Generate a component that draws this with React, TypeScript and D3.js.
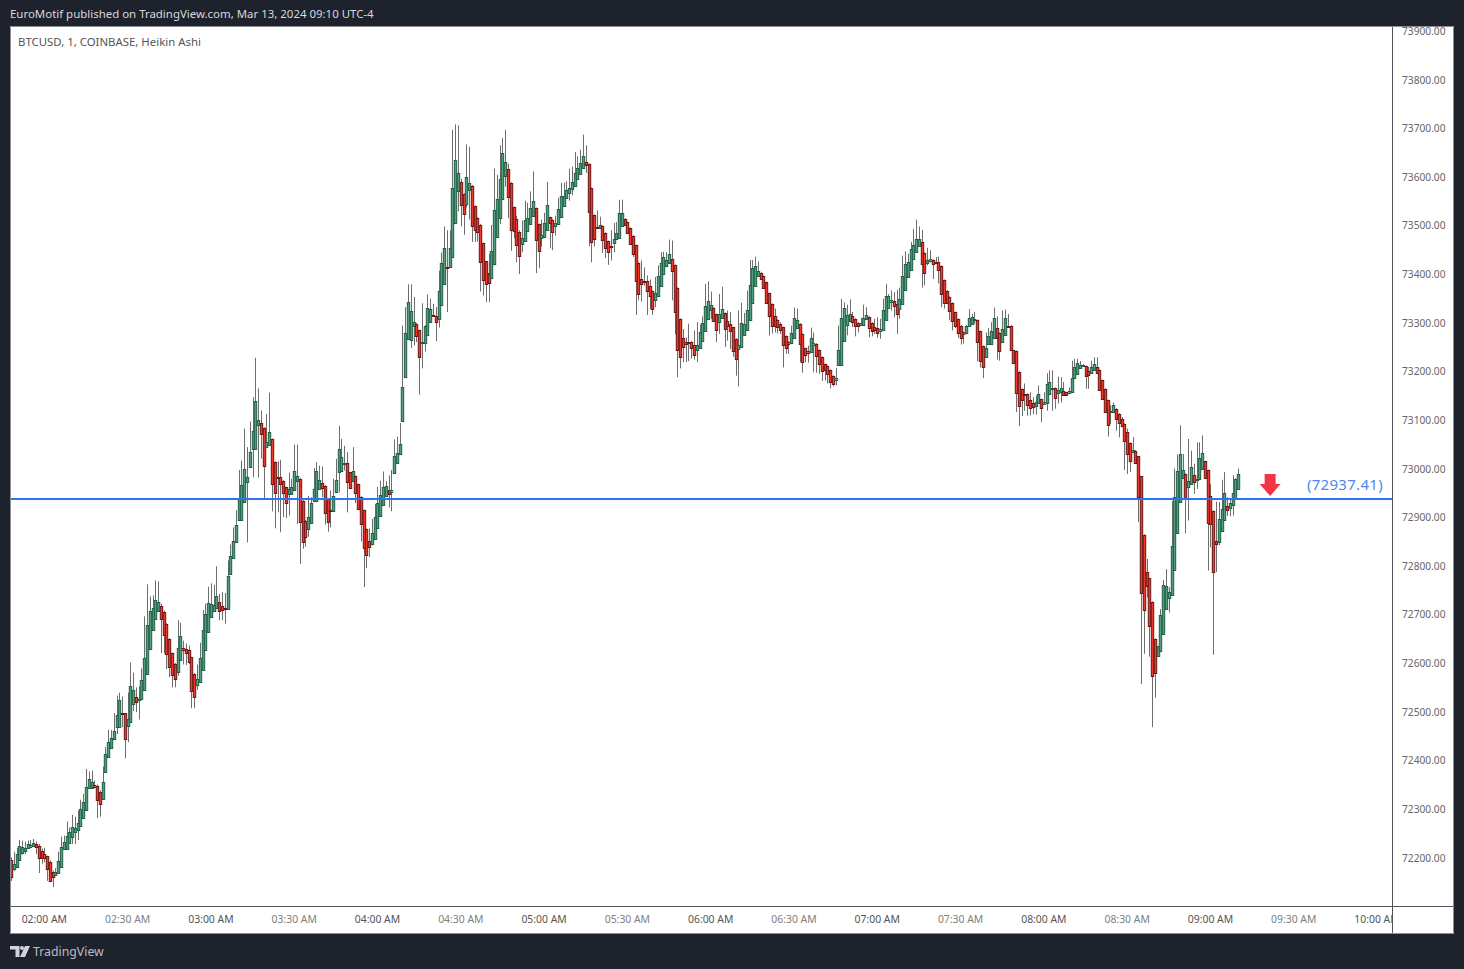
import React from "react";
import * as d3 from "d3";

const opens = [
72194,72176,72180,72195,72209,72214,72220,72221,72224,72228,
72224,72214,72207,72203,72190,72170,72164,72168,72181,72218,
72218,72229,72242,72252,72257,72265,72281,72298,72343,72342,
72349,72347,72334,72320,72376,72406,72425,72444,72468,72468,
72497,72497,72470,72479,72516,72530,72526,72526,72545,72578,
72629,72668,72690,72708,72718,72705,72681,72650,72621,72598,
72582,72607,72631,72629,72626,72612,72578,72554,72561,72586,
72627,72664,72694,72708,72714,72726,72718,72714,72711,72783,
72816,72848,72894,72894,72931,72972,73003,73040,73040,73090,
73093,73084,73044,73049,73061,73014,72983,72983,72975,72962,
72948,72948,72956,72974,72979,72934,72893,72876,72889,72933,
72933,72958,72970,72965,72938,72914,72912,72951,72992,72995,
73010,73012,72992,72974,72985,72968,72942,72915,72876,72850,
72844,72855,72878,72903,72925,72943,72955,72952,72990,73012,
73030,73097,73188,73267,73265,73294,73298,73285,73259,73259,
73275,73301,73316,73314,73308,73337,73380,73415,73414,73436,
73505,73571,73590,73565,73544,73573,73582,73540,73516,73501,
73464,73426,73402,73392,73420,73476,73516,73555,73602,73616,
73588,73538,73514,73487,73461,73469,73489,73503,73520,73536,
73503,73475,73477,73491,73517,73512,73499,73503,73518,73540,
73556,73567,73575,73582,73596,73606,73619,73631,73627,73577,
73522,73497,73495,73499,73485,73468,73457,73464,73473,73475,
73499,73514,73507,73495,73479,73460,73423,73390,73386,73386,
73376,73365,73346,73355,73376,73400,73416,73422,73431,73419,
73372,73308,73269,73261,73260,73261,73254,73244,73247,73263,
73283,73308,73326,73331,73318,73302,73310,73320,73304,73298,
73291,73267,73246,73250,73274,73285,73305,73341,73376,73396,
73403,73396,73384,73361,73339,73314,73306,73298,73291,73273,
73261,73259,73269,73289,73298,73277,73248,73242,73240,73254,
73257,73244,73230,73215,73211,73203,73191,73182,73213,73213,
73263,73295,73304,73314,73308,73300,73296,73296,73308,73312,
73300,73291,73289,73283,73285,73306,73330,73342,73345,73338,
73328,73339,73368,73394,73409,73431,73446,73458,73466,73444,
73422,73427,73429,73425,73425,73417,73388,73366,73353,73341,
73322,73308,73294,73281,73279,73294,73298,73307,73306,73283,
73252,73230,73257,73256,73269,73289,73279,73261,73275,73294,
73294,73243,73242,73199,73164,73154,73154,73141,73134,73129,
73134,73143,73133,73134,73154,73165,73166,73156,73158,73160,
73157,73156,73158,73187,73195,73206,73211,73211,73200,73197,
73202,73209,73203,73182,73164,73141,73117,73117,73123,73113,
73102,73092,73076,73053,73034,73037,73025,72984,72864,72787,
72774,72726,72650,72615,72624,72660,72711,72734,72740,72791,
72868,72932,72981,72989,72963,72969,72986,72979,72979,73000,
73015,72997,72944,72913,72852,72848,72872,72894,72923,72919,
72925,72937,72958];

const closes = [
72159,72187,72207,72224,72221,72220,72227,72226,72230,72221,
72200,72200,72200,72176,72151,72159,72170,72193,72221,72231,
72244,72253,72262,72260,72271,72300,72314,72345,72361,72355,
72344,72318,72310,72355,72413,72438,72446,72460,72494,72524,
72496,72443,72485,72553,72545,72520,72527,72565,72611,72679,
72708,72714,72730,72726,72690,72657,72619,72591,72575,72567,
72631,72656,72627,72620,72602,72542,72530,72568,72611,72668,
72701,72724,72722,72720,72738,72707,72709,72711,72780,72821,
72850,72884,72938,72966,72999,72983,73034,73078,73138,73100,
73071,73005,73054,73075,72968,72949,72982,72968,72949,72929,
72957,72962,72994,72984,72890,72848,72859,72901,72929,72958,
72994,72977,72960,72908,72890,72912,72944,72977,73041,73024,
73012,72972,72960,72995,72949,72916,72886,72837,72822,72838,
72868,72901,72929,72946,72962,72965,72948,72956,73026,73032,
73051,73168,73279,73343,73324,73301,73273,73229,73261,73294,
73331,73329,73315,73301,73366,73423,73454,73414,73454,73577,
73635,73608,73542,73524,73600,73588,73499,73490,73487,73424,
73387,73379,73381,73448,73532,73555,73595,73649,73631,73558,
73491,73488,73460,73437,73475,73512,73516,73536,73551,73470,
73448,73481,73505,73542,73505,73487,73505,73534,73561,73561,
73573,73578,73590,73608,73619,73629,73643,73624,73527,73466,
73472,73496,73501,73470,73454,73446,73456,73472,73485,73526,
73526,73501,73485,73461,73442,73386,73359,73380,73385,73365,
73355,73328,73361,73396,73423,73436,73428,73442,73407,73322,
73244,73229,73250,73256,73259,73248,73234,73254,73281,73300,
73335,73345,73337,73304,73285,73318,73329,73287,73294,73283,
73242,73226,73254,73300,73298,73327,73378,73413,73417,73407,
73390,73372,73341,73313,73294,73294,73292,73285,73254,73248,
73257,73279,73310,73306,73257,73219,73234,73238,73269,73259,
73232,73215,73201,73203,73195,73178,73174,73187,73244,73310,
73331,73316,73318,73302,73294,73294,73300,73310,73316,73289,
73283,73285,73279,73287,73327,73355,73355,73347,73334,73318,
73349,73396,73421,73425,73452,73460,73473,73473,73421,73403,
73429,73431,73420,73424,73409,73360,73341,73341,73325,73304,
73293,73279,73269,73277,73294,73310,73311,73308,73261,73222,
73209,73248,73273,73283,73310,73269,73242,73287,73310,73292,
73244,73217,73156,73129,73141,73153,73130,73125,73127,73137,
73154,73125,73137,73173,73178,73166,73145,73162,73166,73152,
73152,73160,73187,73208,73217,73213,73213,73191,73193,73209,
73215,73197,73162,73143,73117,73090,73119,73130,73102,73093,
73088,73056,73030,73015,73039,73012,72941,72744,72709,72759,
72676,72573,72579,72634,72698,72760,72759,72747,72841,72941,
72996,73030,72997,72937,72975,73004,72973,72979,73022,73033,
72981,72888,72885,72787,72845,72896,72917,72950,72915,72929,
72950,72979,72989];

const highs = [
72200,72212,72220,72236,72235,72233,72235,72236,72238,72233,
72228,72218,72220,72204,72194,72173,72178,72212,72243,72245,
72274,72262,72288,72284,72296,72319,72331,72382,72377,72379,
72358,72350,72338,72387,72427,72463,72462,72497,72533,72539,
72531,72497,72539,72601,72580,72550,72552,72589,72696,72762,
72737,72739,72770,72768,72722,72708,72682,72651,72622,72600,
72688,72683,72646,72640,72636,72613,72579,72597,72642,72709,
72722,72757,72764,72761,72799,72742,72746,72744,72811,72844,
72879,72914,72997,73016,73082,73044,73097,73147,73228,73165,
73119,73085,73112,73156,73062,73015,73015,73018,72976,72963,
72992,72979,73049,73049,72980,72935,72894,72944,72941,73001,
73013,73006,73004,72966,72939,72955,72979,73020,73088,73061,
73047,73034,72993,73044,72986,72969,72943,72916,72877,72877,
72896,72927,72962,72975,72994,72974,72986,72997,73060,73066,
73094,73294,73332,73379,73379,73353,73299,73286,73340,73295,
73358,73349,73339,73332,73407,73444,73498,73490,73490,73697,
73708,73706,73596,73566,73667,73662,73583,73541,73517,73503,
73465,73427,73442,73501,73617,73604,73665,73680,73697,73627,
73589,73539,73520,73490,73510,73551,73547,73570,73611,73537,
73504,73512,73526,73590,73518,73513,73520,73557,73588,73588,
73591,73617,73621,73651,73642,73656,73687,73665,73628,73578,
73523,73531,73518,73500,73486,73469,73490,73505,73507,73553,
73553,73515,73508,73496,73480,73461,73424,73428,73414,73397,
73389,73366,73394,73418,73445,73446,73445,73471,73469,73420,
73373,73309,73287,73270,73298,73262,73284,73301,73296,73313,
73380,73385,73364,73332,73319,73359,73374,73321,73325,73322,
73292,73268,73325,73341,73320,73366,73429,73429,73436,73426,
73404,73397,73385,73362,73340,73329,73307,73301,73292,73274,
73262,73294,73331,73329,73299,73278,73249,73253,73290,73280,
73258,73245,73231,73216,73212,73204,73192,73207,73294,73349,
73342,73337,73348,73322,73309,73301,73310,73337,73332,73313,
73301,73308,73311,73308,73349,73380,73359,73366,73363,73368,
73372,73438,73447,73442,73466,73493,73512,73498,73491,73445,
73454,73449,73430,73435,73436,73418,73389,73367,73354,73342,
73323,73309,73295,73282,73295,73328,73318,73322,73307,73284,
73253,73280,73289,73301,73331,73313,73280,73325,73327,73318,
73295,73244,73243,73200,73165,73175,73155,73157,73147,73150,
73171,73144,73157,73196,73202,73202,73167,73189,73188,73178,
73158,73167,73222,73226,73226,73221,73215,73212,73209,73222,
73229,73229,73204,73183,73165,73142,73130,73136,73124,73114,
73106,73093,73082,73054,73065,73038,73026,72985,72865,72814,
72775,72727,72651,72635,72711,72771,72793,72756,72933,73000,
73029,73089,73030,72990,73061,73037,73010,73054,73054,73068,
73016,72998,72968,72914,72932,72931,72977,72993,72941,72936,
72986,72980,73000];

const lows = [
72152,72172,72178,72194,72206,72207,72218,72220,72222,72207,
72168,72187,72190,72152,72151,72139,72163,72168,72180,72216,
72216,72228,72228,72228,72236,72264,72279,72296,72341,72341,
72343,72281,72284,72319,72375,72405,72423,72443,72454,72467,
72468,72404,72437,72478,72501,72499,72484,72526,72543,72576,
72628,72667,72689,72707,72620,72620,72587,72571,72550,72550,
72574,72605,72597,72596,72598,72507,72507,72545,72560,72585,
72626,72663,72693,72707,72712,72688,72688,72681,72710,72782,
72815,72847,72893,72893,72929,72848,73001,72982,73039,72982,
73020,72938,73043,73047,72912,72877,72910,72869,72900,72898,
72903,72947,72955,72886,72804,72835,72839,72860,72886,72931,
72931,72957,72941,72885,72870,72879,72911,72950,72951,72993,
72996,72910,72959,72973,72929,72915,72850,72756,72795,72818,
72842,72853,72877,72901,72924,72942,72920,72912,72989,73010,
73029,73096,73186,73265,73248,73253,73260,73152,73206,73241,
73274,73300,73315,73262,73290,73336,73378,73322,73413,73435,
73503,73529,73498,73481,73537,73512,73466,73466,73467,73364,
73356,73342,73342,73391,73418,73474,73503,73553,73580,73515,
73448,73474,73424,73400,73445,73468,73488,73502,73518,73402,
73412,73457,73476,73490,73453,73449,73479,73502,73517,73539,
73555,73551,73562,73580,73595,73605,73618,73608,73457,73424,
73457,73495,73494,73443,73433,73419,73428,73445,73472,73474,
73498,73500,73484,73460,73435,73316,73346,73344,73376,73316,
73328,73316,73332,73354,73375,73399,73414,73421,73346,73276,
73188,73206,73219,73219,73221,73226,73224,73219,73246,73262,
73282,73307,73308,73303,73260,73277,73309,73250,73263,73246,
73230,73191,73169,73249,73273,73284,73303,73340,73375,73395,
73389,73371,73340,73274,73278,73280,73278,73277,73208,73236,
73236,73258,73268,73288,73219,73197,73219,73218,73239,73198,
73197,73195,73180,73181,73175,73165,73169,73171,73212,73212,
73262,73274,73303,73291,73272,73280,73295,73295,73306,73270,
73272,73277,73269,73267,73284,73305,73329,73325,73311,73277,
73308,73338,73367,73393,73408,73430,73445,73457,73372,73377,
73418,73424,73390,73423,73381,73332,73329,73340,73305,73284,
73289,73269,73255,73257,73276,73293,73297,73298,73221,73208,
73186,73229,73256,73255,73268,73224,73222,73260,73274,73291,
73243,73216,73116,73087,73108,73119,73109,73109,73112,73111,
73133,73095,73132,73119,73153,73119,73123,73134,73136,73151,
73151,73155,73157,73186,73194,73205,73210,73164,73164,73196,
73201,73196,73161,73142,73116,73066,73092,73116,73078,73064,
73085,72997,72989,72993,73033,73010,72890,72557,72619,72735,
72613,72468,72529,72613,72622,72659,72710,72704,72739,72790,
72867,72930,72980,72867,72893,72967,72948,72958,72978,72999,
72980,72790,72838,72617,72787,72842,72871,72893,72903,72902,
72903,72936,72957];

const priceTicks = [72200,72300,72400,72500,72600,72700,72800,72900,73000,73100,73200,73300,73400,73500,73600,73700,73800,73900];
const timeTicks = [
  { label: "02:00 AM", minute: 12 }, { label: "02:30 AM", minute: 42 }, { label: "03:00 AM", minute: 72 },
  { label: "03:30 AM", minute: 102 }, { label: "04:00 AM", minute: 132 }, { label: "04:30 AM", minute: 162 },
  { label: "05:00 AM", minute: 192 }, { label: "05:30 AM", minute: 222 }, { label: "06:00 AM", minute: 252 },
  { label: "06:30 AM", minute: 282 }, { label: "07:00 AM", minute: 312 }, { label: "07:30 AM", minute: 342 },
  { label: "08:00 AM", minute: 372 }, { label: "08:30 AM", minute: 402 }, { label: "09:00 AM", minute: 432 },
  { label: "09:30 AM", minute: 462 }, { label: "10:00 AM", minute: 492 },
];
const levelPrice = 72937.41;
const levelLabel = "(72937.41)";
const headerText = "EuroMotif published on TradingView.com, Mar 13, 2024 09:10 UTC-4";
const legendText = "BTCUSD, 1, COINBASE, Heikin Ashi";
const brandText = "TradingView";
const arrowMinute = 453.5;

const FONT = "'Noto Sans', 'Open Sans', sans-serif";
const L = 11, R = 1392, T = 27, B = 906, OUTER_R = 1453, OUTER_B = 933;

export default function App() {
  const x = d3.scaleLinear().domain([0, 492]).range([11, 11 + 2.7765 * 492]);
  const y = d3.scaleLinear().domain([72200, 73900]).range([857.5, 31]);
  const n = opens.length;
  const idx = d3.range(n);
  const ay = y(levelPrice);
  const ax = x(arrowMinute);
  const arrow = d3.line()([
    [ax - 5.5, ay - 25], [ax + 5.5, ay - 25], [ax + 5.5, ay - 15], [ax + 10.5, ay - 15],
    [ax, ay - 3], [ax - 10.5, ay - 15], [ax - 5.5, ay - 15],
  ] as [number, number][]) + "Z";
  return (
    <svg width={1464} height={969} style={{ position: "fixed", left: 0, top: 0, display: "block" }} fontFamily={FONT}>
      <defs>
        <clipPath id="plot"><rect x={L} y={T} width={R - L} height={B - T} /></clipPath>
        <clipPath id="paxis"><rect x={R} y={T} width={OUTER_R - R} height={B - T} /></clipPath>
        <clipPath id="taxis"><rect x={L} y={B} width={R - L} height={OUTER_B - B} /></clipPath>
      </defs>
      <rect width={1464} height={969} fill="#1e222d" />
      <rect x={L} y={T} width={OUTER_R - L} height={OUTER_B - T} fill="#ffffff" />
      <rect x={L - 0.5} y={T - 0.5} width={OUTER_R - L + 1} height={OUTER_B - T + 1} fill="none" stroke="#8a8d96" strokeWidth={1} />
      <text x={10} y={18} fontSize={11.45} fill="#d6d8de">{headerText}</text>
      <g clipPath="url(#plot)">
        {idx.map((i) => {
          const px = Math.round(x(i));
          return <line key={"w" + i} x1={px + 0.5} x2={px + 0.5} y1={y(highs[i])} y2={y(lows[i])} stroke="#6e6e6e" strokeWidth={1} />;
        })}
        {idx.map((i) => {
          const px = Math.round(x(i));
          const up = closes[i] >= opens[i];
          const top = Math.round(y(Math.max(opens[i], closes[i])));
          const bot = Math.round(y(Math.min(opens[i], closes[i])));
          return (
            <rect key={"b" + i} x={px - 0.7} y={top + 0.5} width={2.4} height={Math.max(bot - top, 1)}
              fill={up ? "#519c7b" : "#ec3a2a"} stroke={up ? "#1f5f46" : "#6f1313"} strokeWidth={1} />
          );
        })}
        <line x1={L} x2={R} y1={ay} y2={ay} stroke="#2f74ee" strokeWidth={2} />
        <path d={arrow} fill="#f23645" />
        <text x={1383} y={ay - 8.5} textAnchor="end" fontSize={15} letterSpacing={0.3} fill="#4a8af0">{levelLabel}</text>
        <text x={18} y={46} fontSize={11.4} fill="#555">{legendText}</text>
      </g>
      <line x1={R + 0.5} x2={R + 0.5} y1={T} y2={OUTER_B} stroke="#50535a" strokeWidth={1} />
      <line x1={L} x2={OUTER_R} y1={B + 0.5} y2={B + 0.5} stroke="#50535a" strokeWidth={1} />
      <g clipPath="url(#paxis)">
        {priceTicks.map((p) => (
          <text key={p} x={1402} y={y(p) + 4} fontSize={10.2} fill="#666">{p.toFixed(2)}</text>
        ))}
      </g>
      <g clipPath="url(#taxis)">
        {timeTicks.map((t, i) => (
          <text key={t.label} x={x(t.minute)} y={923} textAnchor="middle" fontSize={10.4}
            fill={i % 2 === 0 ? "#555" : "#808080"}>{t.label}</text>
        ))}
      </g>
      <path d="M10 946h9.5v11h-4v-7.5H10zM25 946h5l-5 11h-5z" fill="#d1d4dc" />
      <circle cx={22} cy={948} r={2} fill="#d1d4dc" />
      <text x={33} y={956} fontSize={12.3} fill="#b9bcc5">{brandText}</text>
    </svg>
  );
}
